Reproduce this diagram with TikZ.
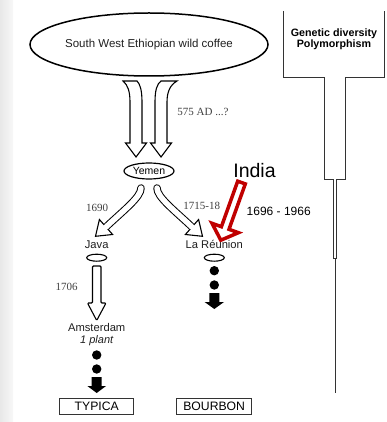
\documentclass[tikz,border=0pt]{standalone}
\usepackage{fontspec}
\setmainfont{Liberation Sans}
\newfontfamily\serifyr{Liberation Serif}
\usetikzlibrary{shapes.geometric}
\definecolor{indred}{HTML}{C00000}
\begin{document}
\begin{tikzpicture}[x=1pt,y=-1pt,
  lbl/.style={inner sep=0pt, text=black!88, font=\fontsize{11.2}{13}\selectfont},
  yr/.style={inner sep=0pt, text=black!75, font=\serifyr\fontsize{11}{13}\selectfont},
  hollow/.style={draw=black, line width=1.1pt, fill=white, line join=miter},
  bandarrow/.style={draw=black, line width=1pt, double=white, double distance=5.5pt, line cap=round},
  eraser/.style={draw=white, line width=5.3pt},
  therm/.style={draw=black!80, line width=1pt},
  dot/.style={fill=black},
  varbox/.style={draw=black!80, line width=1pt, minimum width=74.5pt, minimum height=16.5pt, inner sep=0pt, font=\fontsize{12.2}{14}\selectfont}
]
\useasboundingbox (0,0) rectangle (386,422);
\shade[left color=black!9, right color=black!3] (0,0) rectangle (13,422);

% source ellipse
\node[draw, ellipse, line width=1.5pt, minimum width=238pt, minimum height=63pt, inner sep=0pt,
      text=black!88, font=\fontsize{11.5}{13}\selectfont] (eth) at (149,44.5) {South West Ethiopian wild coffee};

% genetic diversity funnel
\draw[therm] (283,11) -- (283,78) -- (324.5,78) -- (324.5,179.5) -- (333.3,179.5) -- (333.3,258)
  -- (336.7,258) -- (336.7,179.5) -- (345,179.5) -- (345,78) -- (384,78) -- (384,11);
\draw[therm] (335,258) -- (335,393);
\node[align=center, inner sep=0pt, font=\bfseries\fontsize{10.7}{11}\selectfont] (gen) at (334,39.5) {Genetic diversity\\Polymorphism};

% two big hollow arrows Ethiopia -> Yemen
\draw[hollow] (123,81) .. controls (128,85) and (130,92) .. (130,102) -- (130,143) -- (125.5,143) -- (136,157)
  -- (146.5,143) -- (142,143) -- (142,102) .. controls (142,90) and (140,84) .. (137,81) -- cycle;
\draw[hollow] (177,81) .. controls (170,85) and (167,92) .. (167,102) -- (167,143) -- (171.5,143) -- (161,157)
  -- (150.5,143) -- (155,143) -- (155,102) .. controls (155,90) and (157,84) .. (161,81) -- cycle;
\node[yr] (ad) at (203,112) {575 AD ...?};

% Yemen
\node[draw, ellipse, line width=1.2pt, minimum width=50pt, minimum height=16pt, inner sep=0pt,
      font=\fontsize{10.5}{12}\selectfont] (yem) at (149,171) {Yemen};

% Yemen -> Java
\coordinate (bl) at (106,227);
\draw[bandarrow] (141,188) .. controls (141,197) and (124,210) .. (bl);
\draw[hollow] (112.6,234.5) -- (95.5,236.3) -- (99.4,219.5) -- cycle;
\draw[eraser] (107.1,226.0) -- (104.5,228.3);
\node[yr] (y1690) at (97,208) {1690};

% Yemen -> La Reunion
\coordinate (br) at (192,227);
\draw[bandarrow] (157,188) .. controls (157,197) and (174,210) .. (br);
\draw[hollow] (185.4,234.5) -- (202.5,236.3) -- (198.6,219.5) -- cycle;
\draw[eraser] (190.9,226.0) -- (193.5,228.3);
\node[yr] (y1715) at (201.7,206) {1715-18};

% India
\node[inner sep=0pt, font=\fontsize{19.5}{22}\selectfont] (india) at (254.5,170.5) {India};
\draw[draw=indred, line width=3.5pt, fill=white, line join=miter]
  (237.7,181.2) -- (245.3,183.9) -- (229.0,229.3) -- (238.4,232.7) -- (220.8,240.2) -- (212.0,223.3) -- (221.4,226.7) -- cycle;
\node[inner sep=0pt, font=\fontsize{12}{14}\selectfont] (yind) at (278.7,211.7) {1696 - 1966};

% Java branch
\node[lbl] (java) at (96.7,244.3) {Java};
\node[draw, ellipse, line width=1.1pt, minimum width=20pt, minimum height=7pt, inner sep=0pt] (javae) at (96.7,257.7) {};
\draw[hollow, rounded corners=1pt] (92.5,266) -- (92.5,303) -- (87.5,303) -- (96.7,320.5) -- (106,303) -- (101,303) -- (101,266) -- cycle;
\node[yr] (y1706) at (66.7,287.3) {1706};
\node[lbl] (ams) at (96.7,327.7) {Amsterdam};
\node[lbl, font=\itshape\fontsize{11}{13}\selectfont] (plant) at (96.7,341) {1 plant};
\fill[dot] (96.7,355) circle (4.7pt);
\fill[dot] (96.7,369) circle (4.7pt);
\fill (91.7,377) -- (101.7,377) -- (101.7,386) -- (106,386) -- (96.7,393) -- (87.4,386) -- (91.7,386) -- cycle;
\node[varbox] (typ) at (96.7,406.7) {TYPICA};

% La Reunion branch
\node[lbl] (reu) at (214.3,244.3) {La Réunion};
\node[draw, ellipse, line width=1.1pt, minimum width=20pt, minimum height=7pt, inner sep=0pt] (reue) at (214.3,257.7) {};
\fill[dot] (214.3,270.7) circle (4.7pt);
\fill[dot] (214.3,285) circle (4.7pt);
\fill (209.3,293) -- (219.3,293) -- (219.3,302) -- (224,302) -- (214.3,309) -- (204.6,302) -- (209.3,302) -- cycle;
\node[varbox] (bour) at (214.2,406.7) {BOURBON};
\end{tikzpicture}
\end{document}
